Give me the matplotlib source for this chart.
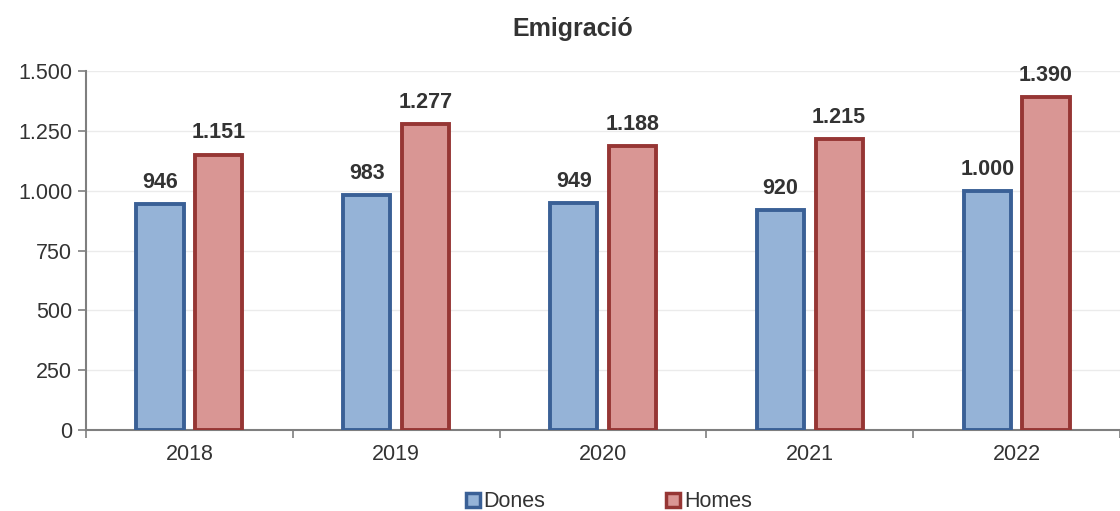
import matplotlib.pyplot as plt
import numpy as np

years = ["2018", "2019", "2020", "2021", "2022"]
dones = [946, 983, 949, 920, 1000]
homes = [1151, 1277, 1188, 1215, 1390]
y_ticks = [0, 250, 500, 750, 1000, 1250, 1500]

plt.rcParams["font.family"] = ["Liberation Sans", "DejaVu Sans"]


def fmt(v):
    return f"{v:,}".replace(",", ".")


fig = plt.figure(figsize=(11.2, 5.11), dpi=100)
ax = fig.add_axes([0.0768, 0.1585, 0.9232, 0.7025])

x = np.arange(len(years))
w = 0.228
off = 0.142
ax.bar(x - off, dones, w, facecolor="#95B3D7", edgecolor="#3A6096", linewidth=2.8, zorder=3)
ax.bar(x + off, homes, w, facecolor="#D99694", edgecolor="#963634", linewidth=2.8, zorder=3)

for xi, v in zip(x - off, dones):
    ax.annotate(fmt(v), (xi, v), xytext=(0, 8), textcoords="offset points",
                ha="center", va="bottom", fontsize=15.5, fontweight="bold", color="#333333")
for xi, v in zip(x + off, homes):
    ax.annotate(fmt(v), (xi, v), xytext=(0, 8), textcoords="offset points",
                ha="center", va="bottom", fontsize=15.5, fontweight="bold", color="#333333")

ax.set_xlim(-0.5, 4.5)
ax.set_ylim(0, 1500)
ax.set_yticks(y_ticks)
ax.set_yticklabels([fmt(v) for v in y_ticks])
ax.yaxis.grid(True, color="#EBEBEB", linewidth=1)
ax.set_axisbelow(True)

ax.set_xticks(np.arange(len(years) + 1) - 0.5)
ax.set_xticklabels([])
ax.set_xticks(x, minor=True)
ax.set_xticklabels(years, minor=True)
ax.tick_params(axis="x", which="major", length=6, direction="out", color="#7F7F7F", width=1.2)
ax.tick_params(axis="x", which="minor", length=0, pad=10, labelsize=15.5, labelcolor="#333333")
ax.tick_params(axis="y", length=6, direction="out", color="#7F7F7F", width=1.2,
               labelsize=15.5, labelcolor="#333333", pad=4)

for s in ["top", "right"]:
    ax.spines[s].set_visible(False)
for s in ["left", "bottom"]:
    ax.spines[s].set_color("#7F7F7F")
    ax.spines[s].set_linewidth(1.5)

fig.text(0.511, 0.943, "Emigració", ha="center", va="center", fontsize=18,
         fontweight="bold", color="#333333")

h1 = plt.Line2D([], [], marker="s", linestyle="none", markersize=10,
                markerfacecolor="#95B3D7", markeredgecolor="#3A6096", markeredgewidth=2.5)
h2 = plt.Line2D([], [], marker="s", linestyle="none", markersize=10,
                markerfacecolor="#D99694", markeredgecolor="#963634", markeredgewidth=2.5)
fig.legend([h1, h2], ["Dones", "Homes"], loc="center", bbox_to_anchor=(0.542, 0.018),
           ncol=2, frameon=False, fontsize=15.5, handletextpad=0.0, columnspacing=5.45,
           handlelength=1.0, labelcolor="#333333")

fig.savefig("out.png", dpi=100)
